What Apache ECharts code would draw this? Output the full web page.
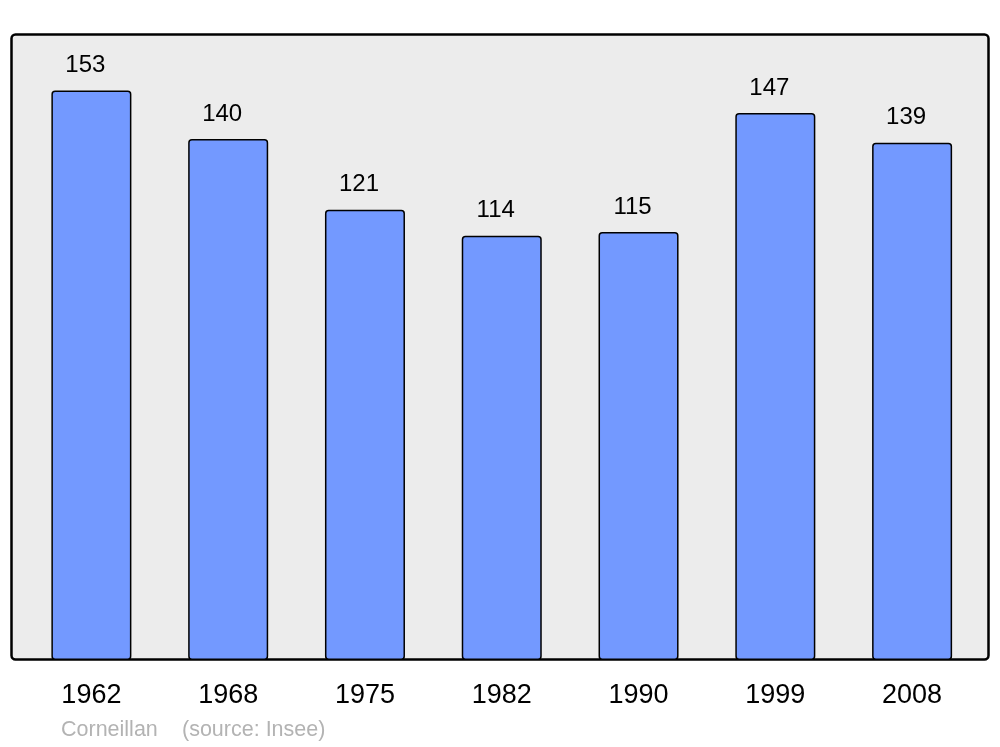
<!DOCTYPE html>
<html>
<head>
<meta charset="utf-8">
<script src="https://cdn.jsdelivr.net/npm/echarts@6/dist/echarts.min.js"></script>
<style>html,body{margin:0;padding:0;background:#fff}#c{width:1000px;height:747px}</style>
</head>
<body>
<div id="c"></div>
<script>
const years = ['1962', '1968', '1975', '1982', '1990', '1999', '2008'];
const population = [153, 140, 121, 114, 115, 147, 139];
const placeName = 'Corneillan';
const sourceNote = '(source: Insee)';

const chart = echarts.init(document.getElementById('c'));
chart.setOption({
  backgroundColor: '#ffffff',
  animation: false,
  textStyle: { fontFamily: '"Liberation Sans", Arial, sans-serif' },
  graphic: [
    {
      type: 'rect', z: 0, silent: true,
      shape: { x: 11.5, y: 34.5, width: 977, height: 625, r: 4 },
      style: { fill: '#ececec', stroke: '#000', lineWidth: 2.5 }
    },
    {
      type: 'text', z: 10, left: 61, top: 719,
      style: { text: placeName, fill: '#b3b3b3', font: '21.5px "Liberation Sans", Arial, sans-serif' }
    },
    {
      type: 'text', z: 10, left: 182, top: 719,
      style: { text: sourceNote, fill: '#b3b3b3', font: '21.5px "Liberation Sans", Arial, sans-serif' }
    }
  ],
  grid: { left: 23, right: 19.5, top: 34, bottom: 87, containLabel: false },
  xAxis: {
    type: 'category',
    data: years,
    axisLine: { show: false },
    axisTick: { show: false },
    axisLabel: { color: '#000', fontSize: 27, margin: 22, fontFamily: '"Liberation Sans", Arial, sans-serif' }
  },
  yAxis: {
    type: 'value', min: 0, max: 168.2,
    show: false,
    splitLine: { show: false }
  },
  series: [{
    type: 'bar',
    data: population,
    barWidth: '58.5%',
    z: 5,
    itemStyle: { color: '#7399ff', borderColor: '#000', borderWidth: 1.5, borderRadius: 3 },
    label: {
      show: true, position: 'top', distance: 13, offset: [-6, 0],
      color: '#000', fontSize: 24, fontFamily: '"Liberation Sans", Arial, sans-serif'
    }
  }]
});
</script>
</body>
</html>
